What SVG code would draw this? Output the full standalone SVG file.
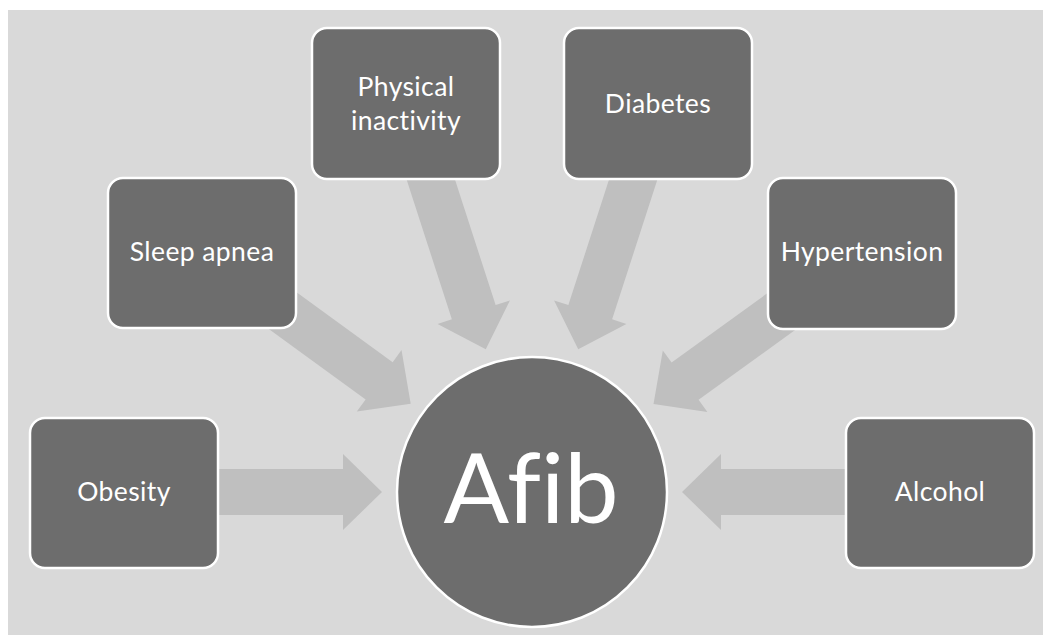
<svg xmlns="http://www.w3.org/2000/svg" xmlns:xlink="http://www.w3.org/1999/xlink" width="1043" height="635" viewBox="0 0 1043 635">
  <style>
    .box { fill: #6d6d6d; stroke: #ffffff; stroke-width: 2.5; }
    .label { fill: #ffffff; font-family: Lato, "Liberation Sans", sans-serif; font-size: 26.5px; letter-spacing: 0.4px; text-anchor: middle; font-variant-ligatures: none; }
    .big { fill: #ffffff; font-family: Lato, "Liberation Sans", sans-serif; font-size: 97px; text-anchor: middle; font-variant-ligatures: none; }
    .arrow { fill: #bfbfbf; }
  </style>
  <defs>
    <!-- block arrow pointing along +x, tip at the origin -->
    <path id="block-arrow" d="M -260 -23 L -39 -23 L -39 -38 L 0 0 L -39 38 L -39 23 L -260 23 Z"/>
  </defs>

  <rect x="0" y="0" width="1043" height="635" fill="#ffffff"/>
  <rect x="8" y="10" width="1035" height="625" fill="#d9d9d9"/>

  <!-- connectors: each points at the centre circle, tip 150px from its centre -->
  <g id="connectors" class="arrow">
    <use xlink:href="#block-arrow" transform="translate(532 492) rotate(0) translate(-150 0)"/>
    <use xlink:href="#block-arrow" transform="translate(532 492) rotate(36.03) translate(-150 0)"/>
    <use xlink:href="#block-arrow" transform="translate(532 492) rotate(72.05) translate(-150 0)"/>
    <use xlink:href="#block-arrow" transform="translate(532 492) rotate(107.95) translate(-150 0)"/>
    <use xlink:href="#block-arrow" transform="translate(532 492) rotate(144.1) translate(-150 0)"/>
    <use xlink:href="#block-arrow" transform="translate(532 492) rotate(180) translate(-150 0)"/>
  </g>

  <g id="obesity">
    <rect class="box" x="30" y="418" width="188" height="150" rx="15"/>
    <text class="label" x="124" y="501">Obesity</text>
  </g>
  <g id="sleep-apnea">
    <rect class="box" x="108" y="178" width="188" height="150" rx="15"/>
    <text class="label" x="202" y="261">Sleep apnea</text>
  </g>
  <g id="physical-inactivity">
    <rect class="box" x="312" y="28" width="188" height="151" rx="15"/>
    <text class="label" x="406" y="96">Physical</text>
    <text class="label" x="406" y="130">inactivity</text>
  </g>
  <g id="diabetes">
    <rect class="box" x="564" y="28" width="188" height="151" rx="15"/>
    <text class="label" x="658" y="113">Diabetes</text>
  </g>
  <g id="hypertension">
    <rect class="box" x="768" y="178" width="188" height="151" rx="15"/>
    <text class="label" x="862" y="261">Hypertension</text>
  </g>
  <g id="alcohol">
    <rect class="box" x="846" y="418" width="188" height="150" rx="15"/>
    <text class="label" x="940" y="501">Alcohol</text>
  </g>

  <g id="afib">
    <circle class="box" cx="532" cy="492" r="135"/>
    <text class="big" x="531" y="523">Afib</text>
  </g>
</svg>
